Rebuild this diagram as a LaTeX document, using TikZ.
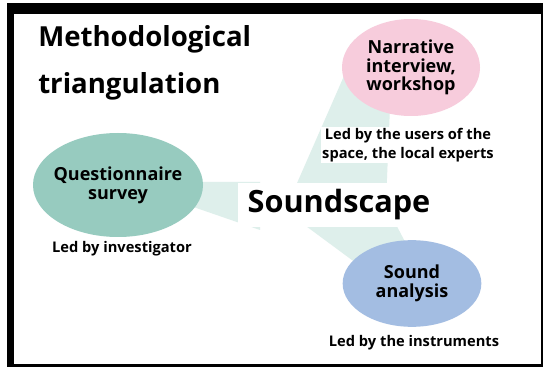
\documentclass[tikz,border=0pt]{standalone}
\usepackage{fontspec}
\setmainfont{Open Sans}
\usetikzlibrary{positioning,shapes.geometric,backgrounds}
\definecolor{questteal}{RGB}{151,203,191}
\definecolor{narrpink}{RGB}{247,204,220}
\definecolor{soundblue}{RGB}{163,189,226}
\definecolor{beamteal}{RGB}{222,239,235}
\tikzset{
  method/.style={ellipse,inner ysep=0pt,inner xsep=-4pt,align=center,
    font=\fontsize{13.5}{14}\selectfont\bfseries},
  questnode/.style={method,fill=questteal,minimum width=127.5pt,minimum height=78pt},
  narrnode/.style={method,fill=narrpink,minimum width=103.5pt,minimum height=72.75pt},
  soundnode/.style={method,fill=soundblue,minimum width=104pt,minimum height=65pt},
  ledlbl/.style={fill=white,inner sep=1pt,align=center,
    font=\fontsize{11}{14}\selectfont\bfseries},
  hubbox/.style={fill=white,minimum width=151.5pt,minimum height=33pt,
    inner sep=0pt,font=\fontsize{23}{26}\selectfont\bfseries},
  titletext/.style={inner sep=0pt,align=left,
    font=\fontsize{20.7}{35.5}\selectfont\bfseries},
  beam/.style={fill=beamteal},
}

\begin{document}
\begin{tikzpicture}[x=0.75pt,y=-0.75pt]
  \useasboundingbox (0,0) rectangle (543,367);

  \node[titletext,anchor=north west] (title) at (38,25) {Methodological\\triangulation};

  \node[hubbox] (hub) at (339,205) {Soundscape};
  \node[questnode] (quest) at (118,185) {Questionnaire\\survey};
  \node[narrnode] (narr) at (411,67.5) {Narrative\\interview,\\workshop};
  \node[soundnode] (sound) at (412,283.5) {Sound\\analysis};

  \node[ledlbl] (questlbl) at (122,249) {Led by investigator};
  \node[ledlbl] (narrlbl) at (408,145) {Led by the users of the\\space, the local experts};
  \node[ledlbl] (soundlbl) at (414,343) {Led by the instruments};

  % frame and beams behind the nodes
  \begin{pgfonlayer}{background}
    \fill[black] (7,3) rectangle (543,367);
    \fill[white] (14,14) rectangle (540.5,363.5);
    \fill[beam] (150,182) -- (260,182) -- (260,230) -- (150,192) -- cycle;
    \fill[beam] (351,60) -- (392,60) -- (386.5,190) -- (294,190) -- cycle;
    \fill[beam] (291,215) -- (391,215) -- (425,280) -- (379,280) -- cycle;
  \end{pgfonlayer}
\end{tikzpicture}
\end{document}
